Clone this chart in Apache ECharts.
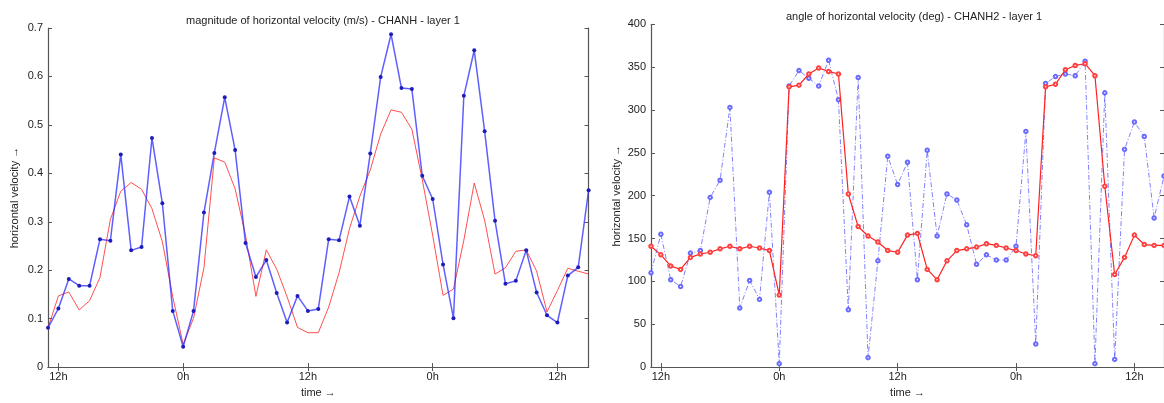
<!DOCTYPE html>
<html>
<head>
<meta charset="utf-8">
<script src="https://cdn.jsdelivr.net/npm/echarts@6/dist/echarts.min.js"></script>
<style>
html,body{margin:0;padding:0;background:#fff;overflow:hidden;}
#c{width:1164px;height:403px;}
</style>
</head>
<body>
<div id="c"></div>
<script>
// hour of day for each sample (hourly, starting 11h)
const hours = ['11','12','13','14','15','16','17','18','19','20','21','22','23','0','1','2','3','4','5','6','7','8','9','10','11','12','13','14','15','16','17','18','19','20','21','22','23','0','1','2','3','4','5','6','7','8','9','10','11','12','13','14','15'];
const tickHours = ['12','0'];

// left: magnitude of horizontal velocity (m/s)
const magBlue = [0.081,0.121,0.182,0.168,0.168,0.264,0.261,0.439,0.241,0.248,0.473,0.338,0.116,0.042,0.116,0.319,0.442,0.557,0.448,0.256,0.186,0.221,0.153,0.092,0.147,0.116,0.120,0.264,0.262,0.352,0.292,0.441,0.599,0.687,0.576,0.574,0.395,0.347,0.212,0.101,0.560,0.654,0.487,0.302,0.172,0.178,0.241,0.154,0.107,0.092,0.189,0.206,0.365];
const magRed = [0.081,0.147,0.155,0.118,0.137,0.185,0.305,0.363,0.381,0.367,0.327,0.259,0.145,0.047,0.101,0.205,0.432,0.423,0.368,0.272,0.146,0.242,0.202,0.145,0.082,0.071,0.071,0.124,0.195,0.286,0.353,0.407,0.481,0.531,0.526,0.491,0.387,0.272,0.148,0.161,0.262,0.380,0.303,0.192,0.205,0.239,0.242,0.198,0.114,0.158,0.204,0.198,0.192];

// right: angle of horizontal velocity (deg)
const angBlue = [110,155,102,94,133,136,198,218,303,69,101,79,204,4,328,346,337,328,358,312,67,338,11,124,246,213,239,102,253,153,202,195,166,120,131,125,125,141,275,27,331,339,342,340,357,4,320,9,254,286,269,174,223];
const angRed = [141,131,118,114,128,132,134,138,141,138,141,139,136,84,327,329,342,349,345,342,202,164,153,146,136,134,154,156,114,102,124,136,138,140,144,142,139,136,132,130,327,330,347,352,354,340,211,108,128,154,143,142,142];

const magTicks = {min:0, max:0.7, interval:0.1};
const angTicks = {min:0, max:400, interval:50};

const FONT = 'Liberation Sans, Arial, sans-serif';
const AXC = '#555';
const TXT = '#222';

function tickFn(idx, val){ return tickHours.indexOf(String(val)) >= 0; }

function xAxes(gi){
  return [
    {type:'category', gridIndex:gi, data:hours, boundaryGap:false, position:'bottom',
     name:'time \u2192', nameLocation:'middle', nameGap:15,
     nameTextStyle:{color:TXT, fontSize:11, fontFamily:FONT},
     axisLine:{lineStyle:{color:AXC, width:1.2}},
     axisTick:{inside:true, length:4, interval:tickFn, lineStyle:{color:AXC}},
     axisLabel:{interval:tickFn, formatter:v=>v+'h', color:TXT, fontSize:11, fontFamily:FONT, margin:4},
     splitLine:{show:false}},
    {type:'category', gridIndex:gi, data:hours, boundaryGap:false, position:'top',
     axisLine:{lineStyle:{color:AXC, width:1.2}},
     axisTick:{inside:true, length:4, interval:tickFn, lineStyle:{color:AXC}},
     axisLabel:{show:false}, splitLine:{show:false}}
  ];
}
function yAxes(gi, t, gap){
  return [
    {type:'value', gridIndex:gi, position:'left', min:t.min, max:t.max, interval:t.interval,
     name:'horizontal velocity \u2192', nameLocation:'middle', nameGap:gap,
     nameTextStyle:{color:TXT, fontSize:11, fontFamily:FONT},
     axisLine:{show:true, lineStyle:{color:AXC, width:1.2}},
     axisTick:{show:true, inside:true, length:4, lineStyle:{color:AXC}},
     axisLabel:{color:TXT, fontSize:11, fontFamily:FONT, margin:5},
     splitLine:{show:false}},
    {type:'value', gridIndex:gi, position:'right', min:t.min, max:t.max, interval:t.interval,
     axisLine:{show:true, lineStyle:{color:AXC, width:1.2}},
     axisTick:{show:true, inside:true, length:4, lineStyle:{color:AXC}},
     axisLabel:{show:false}, splitLine:{show:false}}
  ];
}

const chart = echarts.init(document.getElementById('c'), null, {renderer:'canvas'});
chart.setOption({
  animation:false,
  backgroundColor:'#fff',
  title:[
    {text:'magnitude of horizontal velocity (m/s) - CHANH - layer 1', left:318, top:10, textAlign:'center',
     textStyle:{fontSize:11, fontWeight:'normal', color:TXT, fontFamily:FONT}},
    {text:'angle of horizontal velocity (deg) - CHANH2 - layer 1', left:909, top:6, textAlign:'center',
     textStyle:{fontSize:11, fontWeight:'normal', color:TXT, fontFamily:FONT}}
  ],
  grid:[
    {left:48, top:28, right:575.4, bottom:28},
    {left:651, top:24.3, right:-3.4, bottom:28.7}
  ],
  xAxis:[...xAxes(0), ...xAxes(1)],
  yAxis:[...yAxes(0, magTicks, 28), ...yAxes(1, angTicks, 29)],
  series:[
    {type:'line', xAxisIndex:0, yAxisIndex:0, data:magRed, showSymbol:false, symbol:'none',
     lineStyle:{color:'#ff3030', width:1, type:'solid', opacity:0.85}, z:2},
    {type:'line', xAxisIndex:0, yAxisIndex:0, data:magBlue, symbol:'circle', symbolSize:4,
     showSymbol:true, showAllSymbol:true,
     itemStyle:{color:'#1c1cb8'},
     lineStyle:{color:'#2a2aff', width:1.5, type:'solid', opacity:0.75}, z:3},
    {type:'line', xAxisIndex:2, yAxisIndex:2, data:angBlue, symbol:'emptyCircle', symbolSize:3.5,
     showSymbol:true, showAllSymbol:true,
     itemStyle:{color:'#6a6aff', borderWidth:0.9},
     lineStyle:{color:'#4a4aff', width:1, type:[5,2,1,2], opacity:0.7}, z:2},
    {type:'line', xAxisIndex:2, yAxisIndex:2, data:angRed, symbol:'emptyCircle', symbolSize:3.5,
     showSymbol:true, showAllSymbol:true,
     itemStyle:{color:'#ff4040', borderWidth:0.9},
     lineStyle:{color:'#ff2020', width:1.2, type:'solid'}, z:3}
  ]
});
</script>
</body>
</html>
